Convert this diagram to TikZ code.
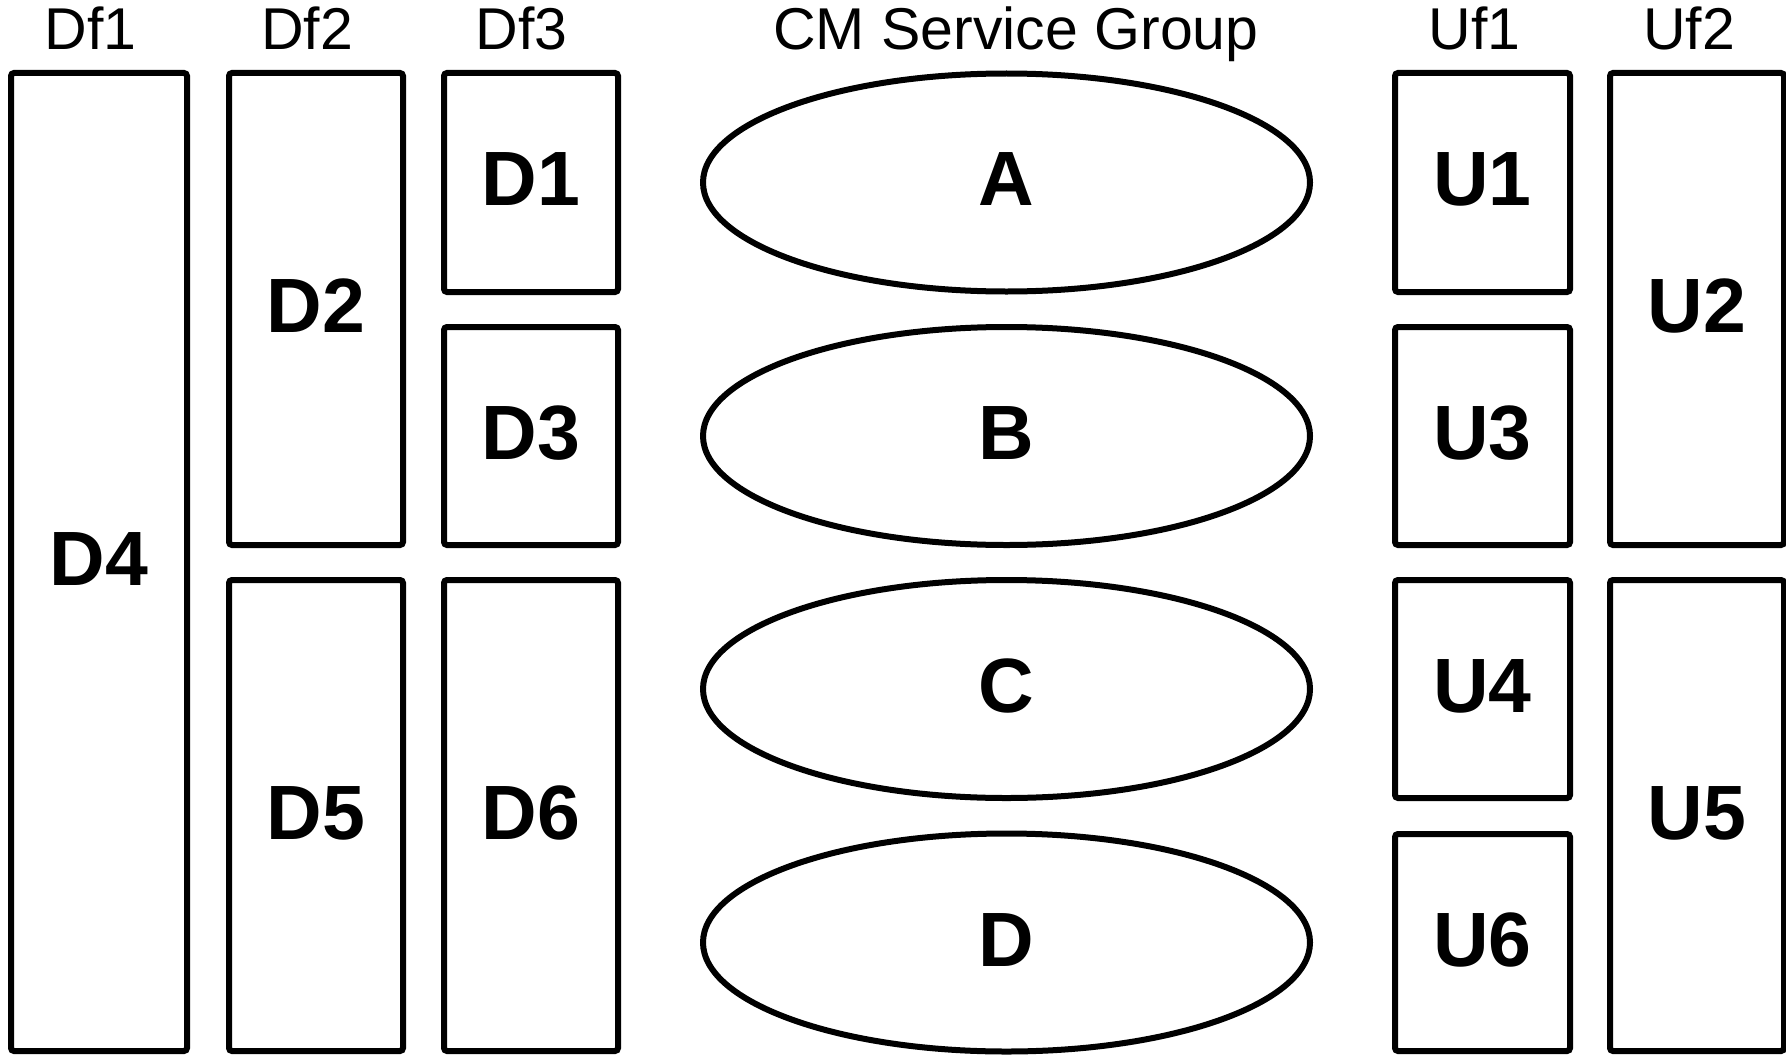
\documentclass[tikz,border=0pt]{standalone}
\usepackage{fontspec}
\setmainfont{Liberation Sans}
\usetikzlibrary{shapes.geometric,positioning}

\begin{document}
\begin{tikzpicture}[
         x=0.5pt,y=-0.5pt,
      box/.style={draw,line width=3pt,rounded corners=1.5pt,inner sep=0pt,text depth=3pt,
        font=\fontsize{38.5}{38.5}\selectfont\bfseries},
      svc/.style={draw,ellipse,line width=3pt,inner sep=0pt,text depth=3pt,
        minimum width=303.5pt,minimum height=109pt,
        font=\fontsize{38.5}{38.5}\selectfont\bfseries},
      head/.style={anchor=base,inner sep=0pt,font=\fontsize{29.5}{29.5}\selectfont}
      ]

	      \useasboundingbox (0,0) rectangle (1786,1054);

	      % headings
	      \node[head] (hdf1) at (90.5,50) {Df1};
	      \node[head] (hdf2) at (307,50) {Df2};
	      \node[head] (hdf3) at (521.5,50) {Df3};
	      \node[head] (hcm) at (1016,50) {CM Service Group};
	      \node[head] (huf1) at (1474.5,50) {Uf1};
	      \node[head] (huf2) at (1689,50) {Uf2};

	      % downstream
	      \node[box,minimum width=88pt,minimum height=489pt] (d4) at (99,562) {D4};
	      \node[box,minimum width=87pt,minimum height=236pt] (d2) at (316,309) {D2};
	      \node[box,minimum width=87pt,minimum height=235.5pt] (d5) at (316,815.5) {D5};
	      \node[box,minimum width=87pt,minimum height=109.5pt] (d1) at (531,182.5) {D1};
	      \node[box,minimum width=87pt,minimum height=109pt] (d3) at (531,436) {D3};
	      \node[box,minimum width=87pt,minimum height=235.5pt] (d6) at (531,815.5) {D6};

	      % service groups
	      \node[svc] (sga) at (1006.5,182.5) {A};
	      \node[svc] (sgb) at (1006.5,436) {B};
	      \node[svc] (sgc) at (1006.5,689) {C};
	      \node[svc] (sgd) at (1006.5,942.5) {D};

	      % upstream
	      \node[box,minimum width=87.5pt,minimum height=109.5pt] (u1) at (1482.5,182.5) {U1};
	      \node[box,minimum width=87.5pt,minimum height=109pt] (u3) at (1482.5,436) {U3};
	      \node[box,minimum width=87.5pt,minimum height=109pt] (u4) at (1482.5,689) {U4};
	      \node[box,minimum width=87.5pt,minimum height=108.5pt] (u6) at (1482.5,942.5) {U6};
	      \node[box,minimum width=87pt,minimum height=236pt] (u2) at (1697,309) {U2};
	      \node[box,minimum width=87pt,minimum height=235.5pt] (u5) at (1697,815.5) {U5};

\end{tikzpicture}
\end{document}
